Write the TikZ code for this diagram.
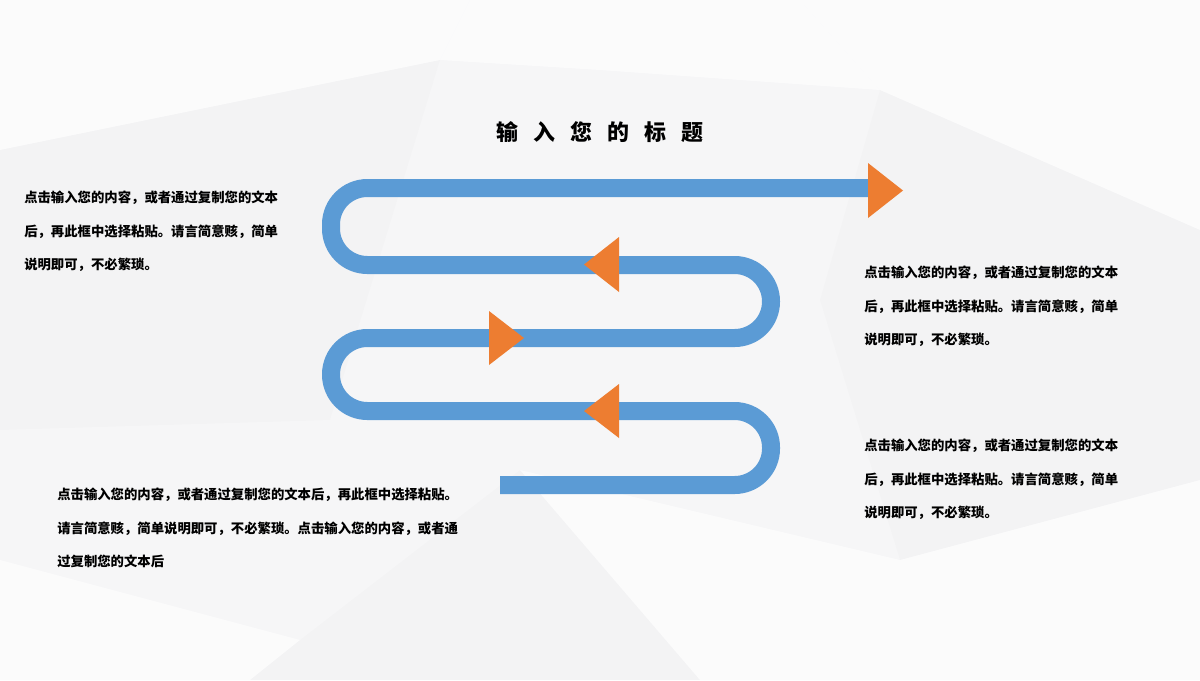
\documentclass[tikz,border=0pt]{standalone}
\usepackage{fontspec}
\newfontfamily\cjk{Noto Sans CJK SC}
\definecolor{roadblue}{HTML}{5B9BD5}
\definecolor{tiporange}{HTML}{ED7D31}
\definecolor{bggray}{HTML}{F6F6F7}
\begin{document}
\begin{tikzpicture}[x=0.025cm,y=-0.025cm,
	road/.style={draw=roadblue,line width=0.45cm,rounded corners=0.91cm},
	tip/.style={fill=tiporange},
	facet/.style={fill=white,opacity=0.6},
	shade/.style={fill=black,opacity=0.012},
	body/.style={anchor=north west,align=left,inner sep=0pt,font=\cjk\bfseries\fontsize{9.5}{23.8}\selectfont}]
	\useasboundingbox(0,0)rectangle(1200,680);
	% background
	\fill[bggray](0,0)rectangle(1200,680);
	\fill[facet](0,0)--(470,0)--(440,60)--(0,150)--cycle;
	\fill[facet](470,0)--(800,0)--(880,90)--(600,70)--(440,60)--cycle;
	\fill[facet](800,0)--(1200,0)--(1200,230)--(880,90)--cycle;
	\fill[facet](0,560)--(300,640)--(250,680)--(0,680)--cycle;
	\fill[facet](520,470)--(900,560)--(1200,480)--(1200,680)--(700,680)--cycle;
	\fill[shade](880,90)--(1200,230)--(1200,480)--(900,560)--(820,300)--cycle;
	\fill[shade](0,150)--(440,60)--(330,420)--(0,430)--cycle;
	\fill[shade](300,640)--(520,470)--(700,680)--(250,680)--cycle;
	% road
	\draw[road](500,485)--(771,485)--(771,411)--(331,411)--(331,338)--(771,338)--(771,265)--(331,265)--(331,188)--(872,188);
	\fill[tip](868,163)--(868,218)--(903,190.5)--cycle;
	\fill[tip](619,237)--(619,292)--(584,264.5)--cycle;
	\fill[tip](489,311)--(489,365)--(524,338)--cycle;
	\fill[tip](619,384)--(619,438)--(584,411)--cycle;
	% texts
	\node(title)at(600,132){\cjk\bfseries\fontsize{15.6}{18}\selectfont 输\hspace{0.68em}入\hspace{0.68em}您\hspace{0.68em}的\hspace{0.68em}标\hspace{0.68em}题};
	\node[body](textA)at(24,191){点击输入您的内容，或者通过复制您的文本\\后，再此框中选择粘贴。请言简意赅，简单\\说明即可，不必繁琐。};
	\node[body](textB)at(864,266){点击输入您的内容，或者通过复制您的文本\\后，再此框中选择粘贴。请言简意赅，简单\\说明即可，不必繁琐。};
	\node[body](textC)at(864,439){点击输入您的内容，或者通过复制您的文本\\后，再此框中选择粘贴。请言简意赅，简单\\说明即可，不必繁琐。};
	\node[body](textD)at(57,488){点击输入您的内容，或者通过复制您的文本后，再此框中选择粘贴。\\请言简意赅，简单说明即可，不必繁琐。点击输入您的内容，或者通\\过复制您的文本后};
\end{tikzpicture}
\end{document}
